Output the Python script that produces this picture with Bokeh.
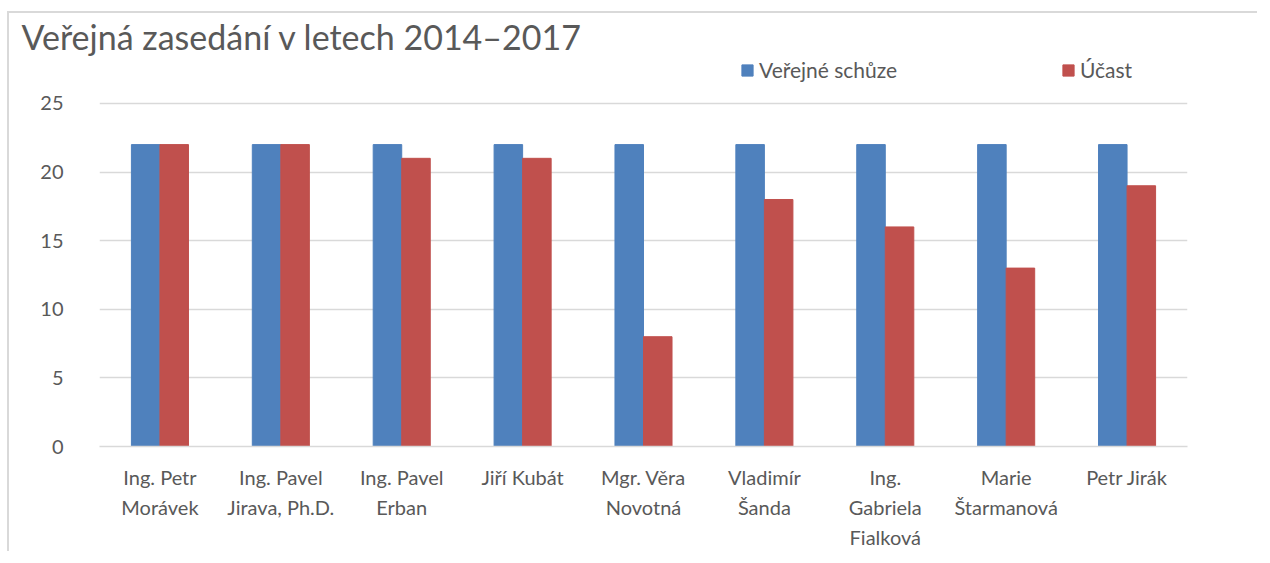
from bokeh.plotting import figure
from bokeh.models import ColumnDataSource, FactorRange, Range1d, Legend, LegendItem, FixedTicker
from bokeh.transform import dodge
from bokeh.embed import file_html
from bokeh.resources import INLINE

categories = ["Ing. Petr\nMorávek", "Ing. Pavel\nJirava, Ph.D.", "Ing. Pavel\nErban", "Jiří Kubát",
              "Mgr. Věra\nNovotná", "Vladimír\nŠanda", "Ing.\nGabriela\nFialková", "Marie\nŠtarmanová", "Petr Jirák"]
verejne_schuze = [22, 22, 22, 22, 22, 22, 22, 22, 22]
ucast = [22, 22, 21, 21, 8, 18, 16, 13, 19]
y_ticks = [0, 5, 10, 15, 20, 25]

BLUE = "#4F81BD"
RED = "#C0504D"
FONT = "Lato"
TXT = "#595959"

src = ColumnDataSource(dict(cat=categories, a=verejne_schuze, b=ucast))

# frame extends above 25 to hold the legend; grid lines only at the ticks
p = figure(x_range=FactorRange(*categories, range_padding=0), y_range=Range1d(0, 28.42),
           width=1250, height=540, output_backend="svg", toolbar_location=None,
           min_border_left=90, min_border_right=72, min_border_top=40, min_border_bottom=107)
p.styles = {"border-top": "2px solid #d9d9d9", "border-left": "2px solid #d9d9d9",
            "margin-top": "11px", "margin-left": "7px"}

bw = 0.236
r1 = p.vbar(x=dodge("cat", -bw / 2, range=p.x_range), top="a", width=bw, source=src,
            fill_color=BLUE, line_color=BLUE)
r2 = p.vbar(x=dodge("cat", bw / 2, range=p.x_range), top="b", width=bw, source=src,
            fill_color=RED, line_color=RED)

p.title.text = "Veřejná zasedání v letech 2014–2017"
p.title.text_font = FONT
p.title.text_font_size = "34px"
p.title.text_font_style = "normal"
p.title.text_color = TXT
p.title.align = "left"
p.title.offset = -78
p.title.standoff = 0

p.outline_line_color = None
p.xgrid.grid_line_color = None
p.ygrid.grid_line_color = "#d9d9d9"
p.ygrid.grid_line_width = 1.5
p.yaxis.ticker = FixedTicker(ticks=y_ticks)
p.yaxis.axis_line_color = None
p.yaxis.major_tick_line_color = None
p.yaxis.minor_tick_line_color = None
p.yaxis.major_label_text_font = FONT
p.yaxis.major_label_text_font_size = "20px"
p.yaxis.major_label_text_color = TXT
p.yaxis.major_label_standoff = 30

p.xaxis.axis_line_color = "#d9d9d9"
p.xaxis.axis_line_width = 1.5
p.xaxis.major_tick_line_color = None
p.xaxis.minor_tick_line_color = None
p.xaxis.major_label_text_font = FONT
p.xaxis.major_label_text_font_size = "20px"
p.xaxis.major_label_text_color = TXT
p.xaxis.major_label_text_line_height = 1.25
p.xaxis.major_label_standoff = 12

leg = Legend(items=[LegendItem(label="Veřejné schůze", renderers=[r1]),
                    LegendItem(label="Účast", renderers=[r2])],
             orientation="horizontal", location=(641, 364))
leg.border_line_color = None
leg.background_fill_alpha = 0
leg.padding = 0
leg.margin = 0
leg.spacing = 0
leg.glyph_width = 14
leg.glyph_height = 14
leg.label_standoff = 5
leg.label_width = 302
leg.label_text_font = FONT
leg.label_text_font_size = "21px"
leg.label_text_color = TXT
p.add_layout(leg, "center")

open("out.html", "w").write(file_html(p, INLINE))
